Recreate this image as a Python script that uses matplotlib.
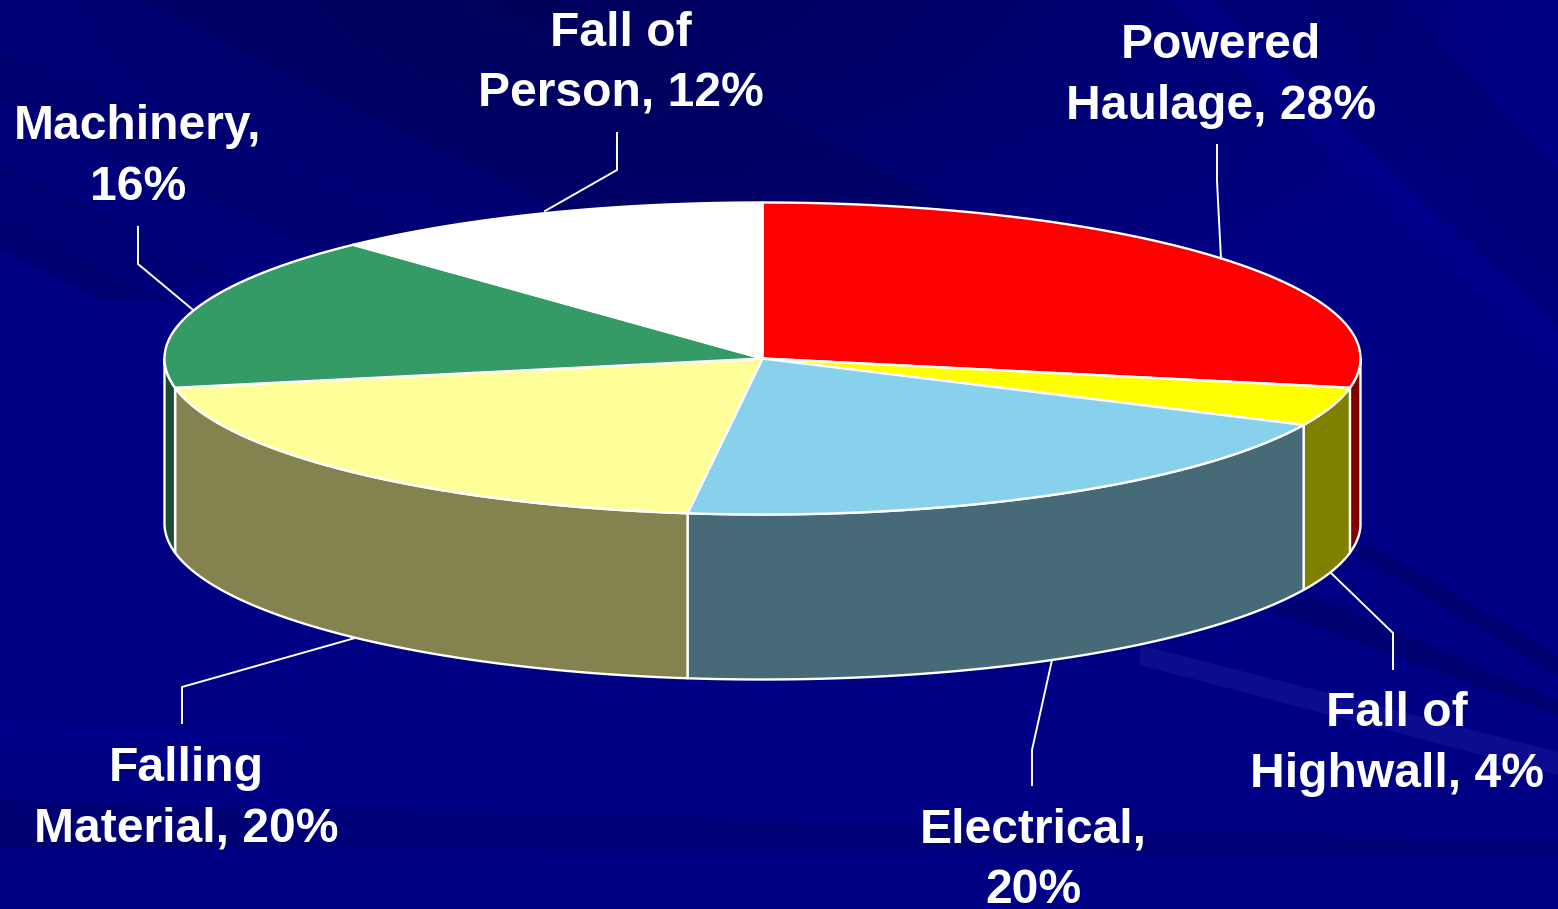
import numpy as np
import matplotlib
matplotlib.use('Agg')
import matplotlib.pyplot as plt
from matplotlib.patches import Polygon

categories = ['Powered\nHaulage, 28%', 'Fall of\nHighwall, 4%', 'Electrical,\n20%',
              'Falling\nMaterial, 20%', 'Machinery,\n16%', 'Fall of\nPerson, 12%']
shares = [28, 4, 20, 20, 16, 12]
top_colors = ['#FF0000', '#FFFF00', '#87D1ED', '#FFFF99', '#349B66', '#FFFFFF']
side_colors = ['#800000', '#808000', '#466A78', '#84834F', '#1A4D33', '#808080']

label_pos = [(1221, 76), (1397, 744), (1033, 860), (186, 799), (138, 157), (621, 64)]
leaders = [[(1221, 259), (1217, 181), (1217, 145)],
           [(1331, 573), (1393, 633), (1393, 669)],
           [(1052, 660), (1032, 750), (1032, 785)],
           [(355, 638), (182, 687), (182, 723)],
           [(192, 309), (138, 264), (138, 227)],
           [(545, 211), (617, 170), (617, 133)]]

# dark / light streaks in the background: corners and alpha
streaks = [
    ([(140, 0), (560, 0), (1000, 230), (600, 230)], '#000050', 0.3),
    ([(0, 50), (0, 100), (420, 300), (500, 270)], '#000060', 0.25),
    ([(0, 160), (0, 215), (160, 290), (230, 275)], '#000060', 0.3),
    ([(0, 215), (0, 250), (100, 300), (170, 300)], '#000050', 0.3),
    ([(1310, 0), (1400, 0), (1558, 170), (1558, 290)], '#000062', 0.35),
    ([(1170, 0), (1215, 0), (1558, 330), (1558, 370)], '#0000A0', 0.3),
    ([(1215, 0), (1310, 0), (1558, 290), (1558, 330)], '#000070', 0.3),
    ([(1350, 550), (1370, 545), (1558, 655), (1558, 675)], '#000068', 0.7),
    ([(1270, 610), (1310, 595), (1558, 700), (1558, 715)], '#000068', 0.7),
    ([(1140, 645), (1140, 665), (1558, 775), (1558, 752)], '#2020A0', 0.4),
    ([(0, 800), (0, 847), (250, 849), (250, 812)], '#000060', 0.25),
    ([(0, 800), (0, 847), (1558, 856), (1558, 840)], '#000060', 0.3),
    ([(0, 722), (0, 738), (300, 742), (300, 736)], '#0000A0', 0.25),
]

cx, cy = 762.5, 358.5
rx, ry = 598, 156
depth = 165
plt.rcParams['font.family'] = ['Liberation Sans', 'DejaVu Sans']


def rim(t, drop=0):
    # t is degrees clockwise from twelve o'clock
    t = np.radians(t)
    return np.column_stack([cx + rx * np.sin(t), cy - ry * np.cos(t) + drop])


fig = plt.figure(figsize=(15.58, 9.09), dpi=100)
ax = fig.add_axes([0, 0, 1, 1])
ax.set_xlim(0, 1558)
ax.set_ylim(909, 0)
ax.axis('off')

# background, darker towards the top left
yy, xx = np.mgrid[0:909:200j, 0:1558:300j]
dark = np.clip(1 - np.hypot((xx - 620) / 950, (yy + 30) / 430), 0, 1)
bg = np.zeros(xx.shape + (3,))
bg[..., 2] = (133 - 40 * dark) / 255
ax.imshow(bg, extent=(0, 1558, 909, 0), aspect='auto', zorder=0, interpolation='bilinear')
for corners, color, alpha in streaks:
    ax.add_patch(Polygon(corners, closed=True, fc=color, ec='none', alpha=alpha, zorder=1))

edges = np.concatenate([[0], np.cumsum(shares) / np.sum(shares) * 360])

# side walls, only the front half of the rim shows
for i in range(len(shares)):
    a, b = max(edges[i], 90), min(edges[i + 1], 270)
    if a >= b:
        continue
    t = np.linspace(a, b, 80)
    pts = np.vstack([rim(t), rim(t[::-1], depth)])
    ax.add_patch(Polygon(pts, closed=True, fc=side_colors[i], ec='white', lw=1.7,
                         joinstyle='round', zorder=2))

# top face
for i in range(len(shares)):
    t = np.linspace(edges[i], edges[i + 1], 120)
    pts = np.vstack([[(cx, cy)], rim(t)])
    ax.add_patch(Polygon(pts, closed=True, fc=top_colors[i], ec='white', lw=1.7,
                         joinstyle='round', zorder=3))

for pts in leaders:
    xs, ys = zip(*pts)
    ax.plot(xs, ys, color='white', lw=1.4, solid_joinstyle='miter', zorder=4)

for name, (x, y) in zip(categories, label_pos):
    ax.text(x, y, name, color='white', fontsize=34.6, fontweight='bold', ha='center',
            va='center', linespacing=1.43, zorder=5)

fig.savefig('out.png', dpi=100)
